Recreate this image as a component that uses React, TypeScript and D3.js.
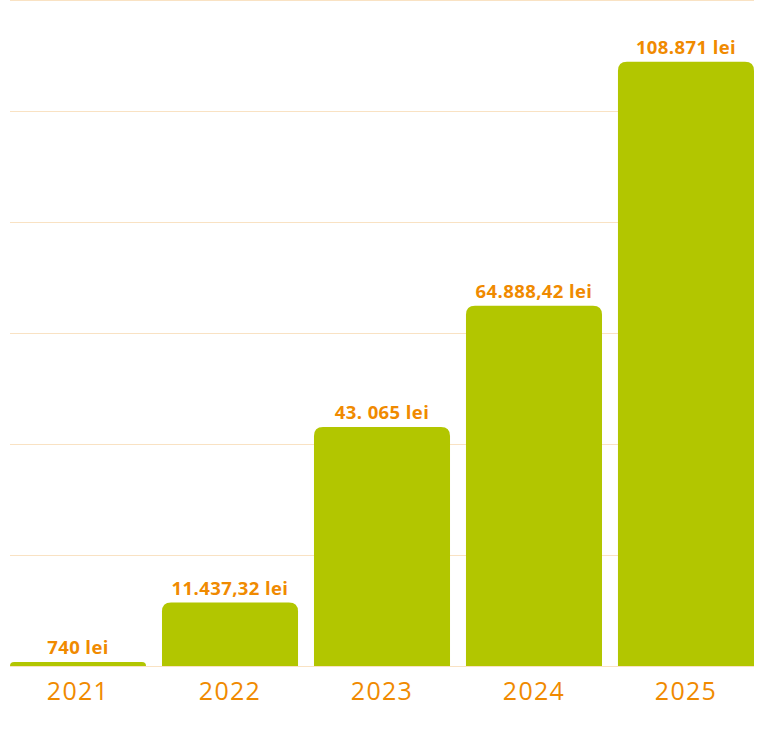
import React from 'react';
import * as d3 from 'd3';

const years = ['2021', '2022', '2023', '2024', '2025'];
const amounts = [740, 11437.32, 43065, 64888.42, 108871];
const amountLabels = ['740 lei', '11.437,32 lei', '43. 065 lei', '64.888,42 lei', '108.871 lei'];
const gridTicks = [0, 20000, 40000, 60000, 80000, 100000, 120000];

const W = 782;
const H = 734;
const orange = '#f08a00';
const green = '#b2c600';
const grid = '#f9e2c3';

// top-rounded bar path
function barPath(x: number, y: number, w: number, h: number, r: number) {
  const rr = Math.min(r, h, w / 2);
  return `M${x},${y + h}V${y + rr}Q${x},${y} ${x + rr},${y}H${x + w - rr}Q${x + w},${y} ${x + w},${y + rr}V${y + h}Z`;
}

export default function App() {
  const x = d3.scaleBand<string>().domain(years).range([10, 754]).paddingInner(0.105).paddingOuter(0);
  const y = d3.scaleLinear().domain([0, 120000]).range([666, 0]);

  return (
    <svg width={W} height={H} style={{ position: 'absolute', left: 0, top: 0, background: '#fff' }}
      fontFamily="'Open Sans', 'DejaVu Sans', sans-serif">
      {gridTicks.map(t => (
        <line key={t} x1={10} x2={754} y1={y(t) + 0.5} y2={y(t) + 0.5} stroke={grid} strokeWidth={1.2} />
      ))}
      {years.map((yr, i) => {
        const bx = x(yr)!;
        const top = y(amounts[i]);
        const h = y(0) - top;
        return (
          <g key={yr}>
            <path d={barPath(bx, top, x.bandwidth(), h, 9)} fill={green} />
            <text x={bx + x.bandwidth() / 2} y={top - 8} textAnchor="middle" fill={orange}
              fontSize={18.5} fontWeight="bold" letterSpacing={0.4}>{amountLabels[i]}</text>
            <text x={bx + x.bandwidth() / 2} y={700} textAnchor="middle" fill={orange}
              fontSize={25} letterSpacing={1.3}>{yr}</text>
          </g>
        );
      })}
    </svg>
  );
}
